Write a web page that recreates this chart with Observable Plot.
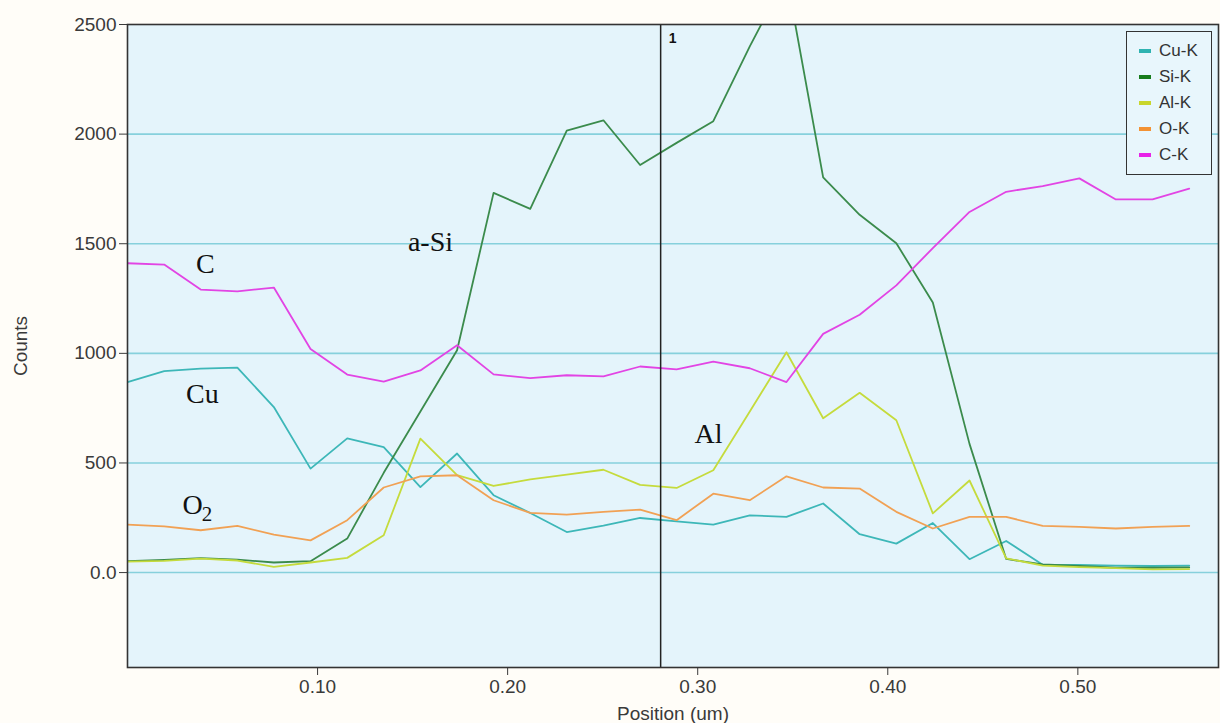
<!DOCTYPE html>
<html><head><meta charset="utf-8">
<script src="https://cdn.jsdelivr.net/npm/d3@7"></script>
<script src="https://cdn.jsdelivr.net/npm/@observablehq/plot@0.6"></script>
<style>
html,body{margin:0;padding:0;background:#fffdf8;}
#wrap{position:relative;width:1220px;height:723px;}
#legend{position:absolute;left:1126px;top:31px;width:86px;height:144px;box-sizing:border-box;border:1.5px solid #333;background:#e8f6fc;font-family:"Liberation Sans",Arial,sans-serif;font-size:17px;color:#333;padding-top:6px;}
.item{display:flex;align-items:center;height:26px;padding-left:12px;}
.sw{width:12px;height:4px;margin-right:8px;}
</style></head><body><div id="wrap"></div>
<script>
// ---- data ----
const positions = [0, 0.0193, 0.0385, 0.0578, 0.0770, 0.0963, 0.1156, 0.1348, 0.1541, 0.1734,
  0.1926, 0.2119, 0.2311, 0.2504, 0.2697, 0.2889, 0.3082, 0.3274, 0.3467, 0.3660,
  0.3852, 0.4045, 0.4237, 0.4430, 0.4623, 0.4815, 0.5008, 0.5200, 0.5393, 0.5586];
const seriesNames = ["Cu-K", "Si-K", "Al-K", "O-K", "C-K"];
const cuK = [869, 919, 930, 935, 755, 474, 612, 572, 390, 543, 353, 272, 185, 214, 249, 234, 219, 261, 254, 315, 175, 132, 226, 61, 144, 36, 35, 32, 30, 32];
const siK = [52, 58, 66, 59, 46, 52, 155, 455, 735, 1014, 1732, 1659, 2016, 2063, 1859, 1960, 2059, 2400, 2720, 1803, 1632, 1502, 1232, 587, 62, 37, 30, 22, 22, 24];
const alK = [50, 53, 64, 55, 26, 46, 67, 170, 611, 445, 395, 425, 447, 469, 400, 386, 467, 735, 1005, 704, 820, 695, 270, 420, 65, 32, 25, 20, 15, 16];
const oK  = [219, 211, 193, 213, 173, 147, 239, 388, 439, 444, 330, 272, 264, 277, 287, 239, 360, 330, 439, 388, 383, 277, 201, 254, 254, 213, 208, 201, 208, 213];
const cK  = [1411, 1405, 1291, 1283, 1300, 1020, 903, 871, 922, 1037, 904, 887, 900, 895, 940, 927, 962, 932, 869, 1089, 1176, 1310, 1480, 1645, 1737, 1763, 1798, 1702, 1702, 1751];
const seriesValues = [cuK, siK, alK, oK, cK];
const lineColors = ["#3db7b8", "#3b8b4c", "#c5db3c", "#f1a154", "#e244e4"];
const legendColors = ["#2fb3b1", "#187c1c", "#c9d62c", "#f39234", "#e822e8"];
const yTicks = [0, 500, 1000, 1500, 2000, 2500];
const gridValues = [0, 500, 1000, 1500, 2000];
const xTicks = [0.1, 0.2, 0.3, 0.4, 0.5];
const markers = [{position: 0.2805, label: "1"}];
const annotations = [
  {label: "C", x: 0.041, y: 1409},
  {label: "Cu", x: 0.0394, y: 816},
  {label: "O", x: 0.0342, y: 310},
  {label: "a-Si", x: 0.1594, y: 1510},
  {label: "Al", x: 0.3057, y: 634}
];
const subscripts = [{label: "2", x: 0.0418, y: 268}];

// ---- table ----
const rows = [];
seriesNames.forEach((name, k) => positions.forEach((p, i) =>
  rows.push({series: name, position: p, counts: seriesValues[k][i]})));

const chart = Plot.plot({
  width: 1220, height: 723,
  marginLeft: 127, marginRight: 2, marginTop: 24, marginBottom: 56,
  style: {fontFamily: "'Liberation Sans', Arial, sans-serif", fontSize: "19px", color: "#3a3a3a", background: "transparent"},
  x: {domain: [0, 0.574]},
  y: {domain: [-433, 2500]},
  color: {domain: seriesNames, range: lineColors},
  marks: [
    Plot.frame({fill: "#e4f4fb", stroke: "none"}),
    Plot.ruleY(gridValues, {stroke: "#86d0dc", strokeWidth: 1.6}),
    Plot.lineY(rows, {x: "position", y: "counts", z: "series", stroke: "series", strokeWidth: 1.8, clip: true}),
    Plot.ruleX(markers, {x: "position", stroke: "#222", strokeWidth: 1.5}),
    Plot.text(markers, {x: "position", text: "label", frameAnchor: "top", dx: 12, dy: 9, fontWeight: "bold", fontSize: 14, fill: "#111"}),
    Plot.text(annotations, {x: "x", y: "y", text: "label", fontFamily: "'Liberation Serif', 'Times New Roman', serif", fontSize: 28, fill: "#111"}),
    Plot.text(subscripts, {x: "x", y: "y", text: "label", fontFamily: "'Liberation Serif', 'Times New Roman', serif", fontSize: 21, fill: "#111"}),
    Plot.axisY({ticks: yTicks, tickFormat: d => d === 0 ? "0.0" : String(d), tickSize: 8, tickPadding: 3,
      label: "Counts", labelAnchor: "center", labelArrow: "none", labelOffset: 114}),
    Plot.axisX({ticks: xTicks, tickFormat: d => d.toFixed(2), tickSize: 8, tickPadding: 4,
      label: "Position (um)", labelAnchor: "center", labelArrow: "none", labelOffset: 52}),
    Plot.frame({stroke: "#333", strokeWidth: 1.6})
  ]
});
const wrap = document.getElementById("wrap");
wrap.appendChild(chart);

// legend (overlay inside the plot area, as in the reference)
const leg = document.createElement("div");
leg.id = "legend";
seriesNames.forEach((name, k) => {
  const it = document.createElement("div");
  it.className = "item";
  const sw = document.createElement("span");
  sw.className = "sw";
  sw.style.background = legendColors[k];
  const tx = document.createElement("span");
  tx.textContent = name;
  it.appendChild(sw); it.appendChild(tx);
  leg.appendChild(it);
});
wrap.appendChild(leg);
</script>
</body></html>
